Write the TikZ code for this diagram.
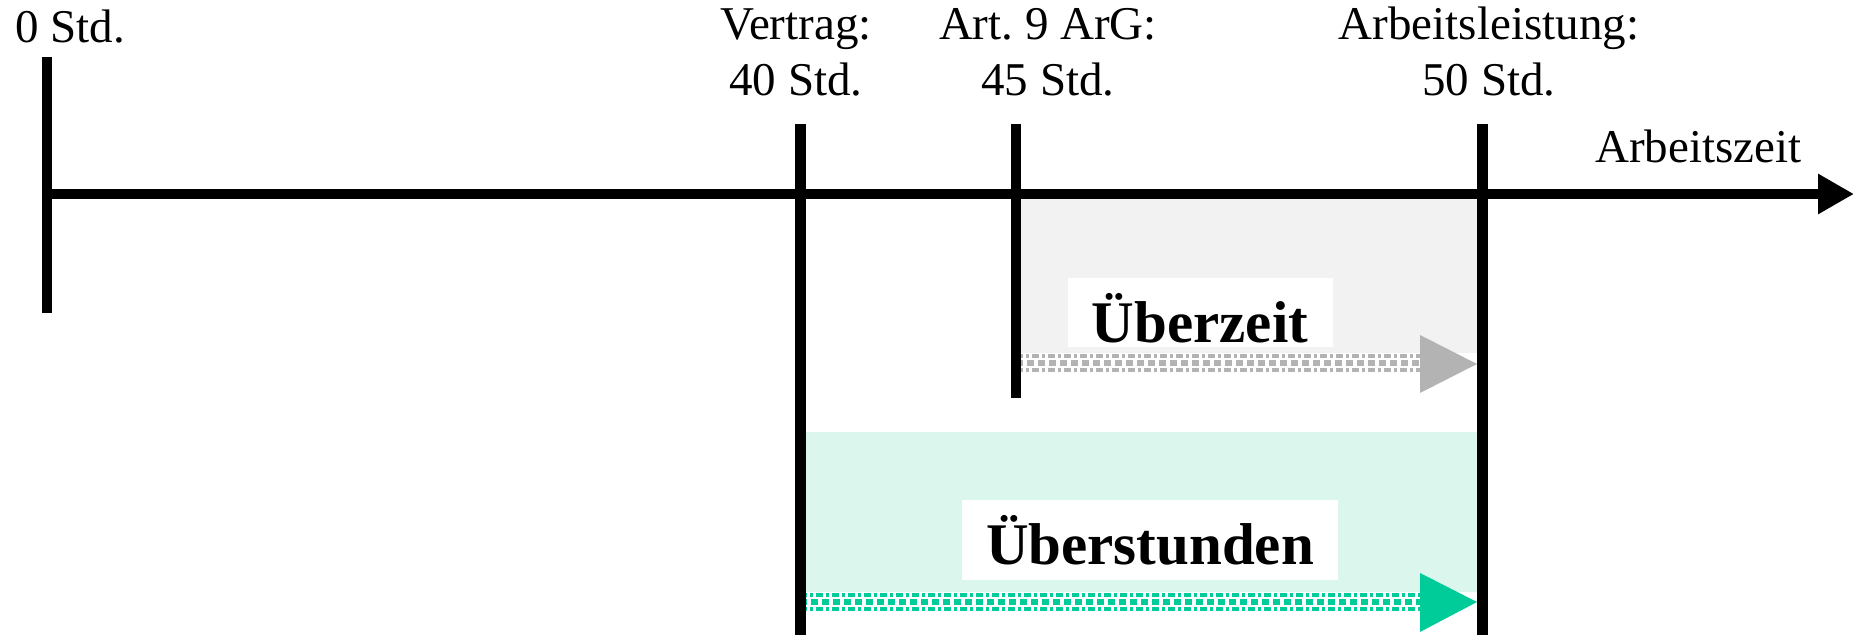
\documentclass[tikz,border=0pt]{standalone}
\usepackage{fontspec}
\setmainfont{Liberation Serif}
\usetikzlibrary{arrows.meta}
\definecolor{arrgrey}{HTML}{B3B3B3}
\definecolor{arrgreen}{HTML}{00CC99}
\definecolor{fillgrey}{HTML}{F2F2F2}
\definecolor{fillmint}{HTML}{DBF6ED}
\newcommand\myshaft[3]{%
  \draw[#1, line width=2pt, dash pattern=on 3.5pt off 1.5pt on 1.5pt off 1.5pt] ([yshift=3.5pt]#2) -- ([yshift=3.5pt]#3);
  \draw[#1, line width=3pt, dash pattern=on 3.5pt off 2pt] (#2) -- (#3);
  \draw[#1, line width=2pt, dash pattern=on 3.5pt off 1.5pt on 1.5pt off 1.5pt] ([yshift=-3.5pt]#2) -- ([yshift=-3.5pt]#3);
}
\frenchspacing
\begin{document}
\begin{tikzpicture}[x=0.5pt,y=-0.5pt,
  lbl/.style={font=\fontsize{23.5}{28}\selectfont, inner sep=0pt},
  tickline/.style={line width=5pt},
  bigtick/.style={line width=5.5pt},
  boxlbl/.style={fill=white, font=\fontsize{29.5}{34}\bfseries\selectfont, inner sep=0pt, text height=32.5pt}
]
\useasboundingbox (0,0) rectangle (1854,635);
% shaded regions
\fill[fillgrey] (1016,194) rectangle (1482,353);
\fill[fillmint] (800,432) rectangle (1482,592);
% label boxes
\node[boxlbl, minimum width=132.5pt, text depth=2pt] (uz) at (1200,312.5) {Überzeit};
\node[boxlbl, minimum width=188pt, text depth=7.5pt] (us) at (1150,540) {Überstunden};
% arrows
\coordinate (uzs) at (1016,363);
\coordinate (uze) at (1420,363);
\coordinate (uss) at (800,602);
\coordinate (use) at (1420,602);
\myshaft{arrgrey}{uzs}{uze}
\myshaft{arrgreen}{uss}{use}
\fill[arrgrey] (1420,335) -- (1477,364) -- (1420,393) -- cycle;
\fill[arrgreen] (1420,573) -- (1477,602) -- (1420,632) -- cycle;
% axis
\coordinate (o) at (47,194);
\coordinate (axend) at (1854,194);
\draw[tickline, -{Triangle[length=18pt,width=19pt]}] (o) -- (axend);
% ticks
\coordinate (t0a) at (47,57);   \coordinate (t0b) at (47,313);
\coordinate (t40a) at (800,124); \coordinate (t40b) at (800,635);
\coordinate (t45a) at (1016,124); \coordinate (t45b) at (1016,398);
\coordinate (t50a) at (1482,124); \coordinate (t50b) at (1482,635);
\draw[tickline] (t0a) -- (t0b);
\draw[bigtick] (t40a) -- (t40b);
\draw[tickline] (t45a) -- (t45b);
\draw[bigtick] (t50a) -- (t50b);
% labels
\node[lbl, anchor=base west] (l0) at (15,43) {0 Std.};
\node[lbl, anchor=south, align=center] (l40) at (796,97) {Vertrag:\\40 Std.};
\node[lbl, anchor=south, align=center] (l45) at (1048,97) {Art. 9 ArG:\\45 Std.};
\node[lbl, anchor=south, align=center] (l50) at (1489,97) {Arbeitsleistung:\\50 Std.};
\node[lbl, anchor=base west] (lax) at (1595,163) {Arbeitszeit};
\end{tikzpicture}
\end{document}
